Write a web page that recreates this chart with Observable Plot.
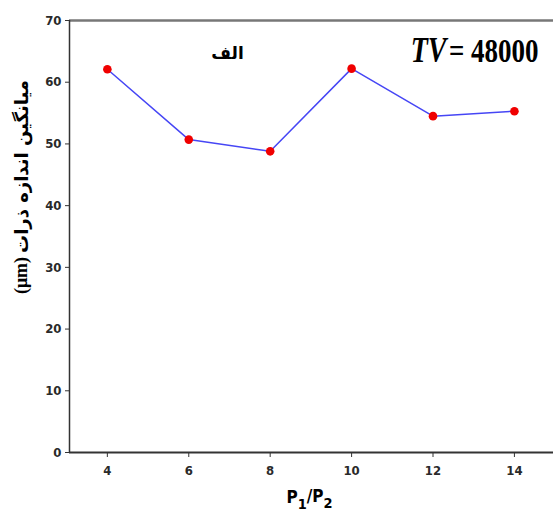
<!DOCTYPE html>
<html>
<head>
<meta charset="utf-8">
<script src="https://cdn.jsdelivr.net/npm/d3@7"></script>
<script src="https://cdn.jsdelivr.net/npm/@observablehq/plot@0.6"></script>
<style>
  html, body { margin: 0; padding: 0; background: #fff; }
  #chart svg { display: block; }
</style>
</head>
<body>
<div id="chart"></div>
<script>
const ratios = [4, 6, 8, 10, 12, 14];
const sizes = [62.1, 50.7, 48.8, 62.2, 54.5, 55.3];
const yTicks = [0, 10, 20, 30, 40, 50, 60, 70];
const xTicks = [4, 6, 8, 10, 12, 14];
const yLabelFa = "میانگین اندازه ذرات";
const yLabelUnit = "(μm)";
const xLabel = "P1/P2";
const panelLabel = "الف";
const tvName = "TV";
const tvValue = "= 48000";

const data = ratios.map((r, i) => ({ratio: r, size: sizes[i]}));

const tickFont = "DejaVu Sans Condensed";

const plot = Plot.plot({
  width: 553,
  height: 518,
  marginLeft: 69,
  marginTop: 20,
  marginBottom: 66,
  marginRight: 0,
  style: { background: "#fff", fontFamily: tickFont },
  x: { domain: [3.07, 14.96], ticks: xTicks },
  y: { domain: [0, 70], ticks: yTicks },
  marks: [
    Plot.axisY(yTicks, {
      tickSize: 4, tickPadding: 4, fontSize: 13, fill: "#2a2a2a", stroke: "#333",
      label: null, fontWeight: "bold"
    }),
    Plot.axisX(xTicks, {
      tickSize: 5, tickPadding: 8, fontSize: 13, fill: "#2a2a2a", stroke: "#333",
      label: null, fontWeight: "bold"
    }),
    Plot.ruleY([70], { stroke: "#777", strokeWidth: 2.5 }),
    Plot.ruleX([3.07], { stroke: "#333", strokeWidth: 1.5 }),
    Plot.ruleY([0], { stroke: "#333", strokeWidth: 2 }),
    Plot.line(data, { x: "ratio", y: "size", stroke: "#4646f5", strokeWidth: 1.5 }),
    Plot.dot(data, { x: "ratio", y: "size", fill: "#f00000", stroke: "none", r: 4.3 }),
    Plot.text([panelLabel], {
      frameAnchor: "top-left", dx: 158, dy: 33, textAnchor: "middle", lineAnchor: "middle",
      text: d => d, fontSize: 17, fontWeight: "bold", fontFamily: "DejaVu Sans", fill: "#000"
    }),
    Plot.text([tvName], {
      frameAnchor: "top-right", dx: -107, dy: 30, textAnchor: "end", lineAnchor: "middle",
      text: d => d, fontSize: 28, fontWeight: "bold", fontStyle: "italic",
      fontFamily: "Liberation Serif", fill: "#000"
    }),
    Plot.text([tvValue], {
      frameAnchor: "top-right", dx: -15, dy: 30, textAnchor: "end", lineAnchor: "middle",
      text: d => d, fontSize: 27, fontWeight: "bold", fontFamily: "Liberation Serif", fill: "#000"
    }),
    Plot.text([yLabelFa], {
      frameAnchor: "left", dx: -47, dy: -70, rotate: -90, textAnchor: "middle", lineAnchor: "middle",
      text: d => d, fontSize: 18, fontWeight: "bold", fontFamily: "DejaVu Sans", fill: "#000"
    }),
    Plot.text([yLabelUnit], {
      frameAnchor: "left", dx: -48, dy: 39, rotate: -90, textAnchor: "middle", lineAnchor: "middle",
      text: d => d, fontSize: 18, fontWeight: "bold", fontFamily: "Liberation Serif", fill: "#000"
    }),
    Plot.text([xLabel], {
      frameAnchor: "bottom", dx: -2, dy: 45, textAnchor: "middle", lineAnchor: "middle",
      text: d => d, fontSize: 17, fontWeight: "bold", fontFamily: tickFont, fill: "#000"
    })
  ]
});

const svg = d3.select(plot);
// Subscripts in the x label
svg.selectAll("text").filter(function() { return this.textContent === xLabel; })
  .each(function() {
    const t = d3.select(this);
    t.text(null);
    t.append("tspan").text("P");
    t.append("tspan").attr("dy", "0.4em").attr("font-size", "0.85em").text("1");
    t.append("tspan").attr("dy", "-0.4em").text("/P");
    t.append("tspan").attr("dy", "0.4em").attr("font-size", "0.85em").text("2");
  });
// Tall serif look of the TV annotation
svg.selectAll("text").filter(function() {
  return this.textContent === tvName || this.textContent === tvValue;
}).each(function() {
  const tr = this.getAttribute("transform") || "";
  this.setAttribute("transform", tr + " scale(1,1.28)");
});

document.getElementById("chart").appendChild(plot);
</script>
</body>
</html>
